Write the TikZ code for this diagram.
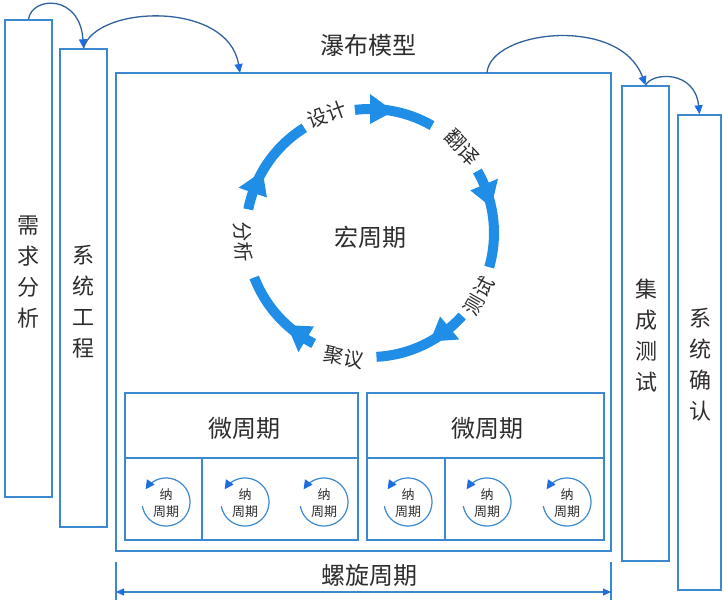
\documentclass[tikz,border=0pt]{standalone}
\usepackage{fontspec}
\newfontfamily\cjk{Noto Sans CJK SC}
\usetikzlibrary{arrows.meta}
\definecolor{boxblue}{RGB}{60,136,206}
\definecolor{bandblue}{RGB}{32,142,230}
\definecolor{curveblue}{RGB}{50,98,158}
\definecolor{tipblue}{RGB}{30,110,225}
\definecolor{txt}{RGB}{45,45,45}
\begin{document}
\begin{tikzpicture}[x=1pt,y=-1pt,
  box/.style={draw=boxblue, line width=1.5pt, rectangle, inner sep=0pt},
  vlbl/.style={font=\cjk\fontsize{22}{31}\selectfont, text=txt, align=center, inner sep=0pt},
  big/.style={font=\cjk\fontsize{24}{28}\selectfont, text=txt, inner sep=0pt},
  arclbl/.style={font=\cjk\fontsize{20}{24}\selectfont, text=txt, inner sep=0pt},
  nano/.style={font=\cjk\fontsize{13}{17}\selectfont, text=txt, align=center, inner sep=0pt},
  band/.style={draw=bandblue, line width=10pt},
  nanoarc/.style={draw=boxblue, line width=1.2pt, -{Triangle[length=9pt,width=9pt,color=tipblue]}},
  flow/.style={draw=curveblue, line width=1.3pt, -{Triangle[length=9pt,width=8pt,color=tipblue]}},
  dim/.style={draw=boxblue, line width=1.2pt, {Triangle[length=8pt,width=7pt,color=tipblue]}-{Triangle[length=8pt,width=7pt,color=tipblue]}},
  tick/.style={draw=boxblue, line width=1.2pt}
]
\useasboundingbox (0,0) rectangle (723,600);

% outer boxes
\node[box, minimum width=47pt, minimum height=477pt] (req) at (28.5,258.5) {};
\node[box, minimum width=47pt, minimum height=478pt] (sys) at (83.5,288) {};
\node[box, minimum width=495pt, minimum height=478pt] (main) at (363.5,312) {};
\node[box, minimum width=47pt, minimum height=475pt] (integ) at (645.5,323.5) {};
\node[box, minimum width=43pt, minimum height=475pt] (conf) at (699.5,352.5) {};

% vertical labels
\node[vlbl] (reqt) at (28.5,272) {需\\求\\分\\析};
\node[vlbl] (syst) at (83.5,302) {系\\统\\工\\程};
\node[vlbl] (integt) at (646,336) {集\\成\\测\\试};
\node[vlbl] (conft) at (700,365) {系\\统\\确\\认};

% title
\node[big] (wf) at (368,45) {瀑布模型};

% top flow curves
\coordinate (mainA) at (240,73);
\coordinate (mainB) at (487,73);
\draw[flow] (req.north) .. controls (32,-4) and (80,-6) .. (sys.north);
\draw[flow] (sys.north) .. controls (95,5) and (228,0) .. (mainA);
\draw[flow] (mainB) .. controls (490,30) and (620,15) .. (integ.north);
\draw[flow] (integ.north) .. controls (652,72) and (695,70) .. (conf.north);

% macro cycle
\node[big] (macro) at (370,237) {宏周期};
\foreach \a/\b/\t in {97/60/79, 30/-16/12, -42/-87/-61, -117/-159/-132, 169/122/150} {
  \draw[band] plot[domain=\a:\b, samples=40] ({370+124*cos(\x)},{233-124*sin(\x)});
  \pgfmathsetmacro\bb{\t+11}
  \fill[bandblue] ({370+139*cos(\bb)},{233-139*sin(\bb)}) -- ({370+109*cos(\bb)},{233-109*sin(\bb)}) -- ({370+124*cos(\t)},{233-124*sin(\t)}) -- cycle;
}
\node[arclbl, rotate=20] (l1) at ({370+126*cos(110)},{233-126*sin(110)}) {设计};
\node[arclbl, rotate=-47] (l2) at ({370+126*cos(43)},{233-126*sin(43)}) {翻译};
\node[arclbl, rotate=60] (l3) at ({370+126*cos(-30)},{233-126*sin(-30)}) {测试};
\node[arclbl, rotate=-12] (l4) at ({370+127*cos(-102)},{233-127*sin(-102)}) {聚议};
\node[arclbl, rotate=-86] (l5) at ({370+127*cos(184)},{233-127*sin(184)}) {分析};

% micro cycles
\node[box, minimum width=233pt, minimum height=65pt] (mh1) at (241.5,425.5) {};
\node[box, minimum width=77pt, minimum height=82pt] (mc1a) at (163.5,499) {};
\node[box, minimum width=156pt, minimum height=82pt] (mc1b) at (280,499) {};
\node[box, minimum width=237pt, minimum height=65pt] (mh2) at (485.5,425.5) {};
\node[box, minimum width=78pt, minimum height=82pt] (mc2a) at (406,499) {};
\node[box, minimum width=159pt, minimum height=82pt] (mc2b) at (524.5,499) {};
\node[big] (mt1) at (244,428) {微周期};
\node[big] (mt2) at (487,428) {微周期};

% nano cycles
\foreach \i/\px in {1/166, 2/245, 3/324, 4/408, 5/487, 6/567} {
  \node[nano] (nano\i) at (\px,503) {纳\\周期};
  \draw[nanoarc] plot[domain=-170:148, samples=60] ({\px+24*cos(\x)},{502-24*sin(\x)});
}

% spiral dimension
\coordinate (dlt) at (116,562);
\coordinate (dlb) at (116,600);
\coordinate (drt) at (611,562);
\coordinate (drb) at (611,600);
\coordinate (dl) at (116,592);
\coordinate (dr) at (611,592);
\draw[tick] (dlt) -- (dlb);
\draw[tick] (drt) -- (drb);
\draw[dim] (dl) -- (dr);
\node[big] (spiral) at (369,575) {螺旋周期};
\end{tikzpicture}
\end{document}
